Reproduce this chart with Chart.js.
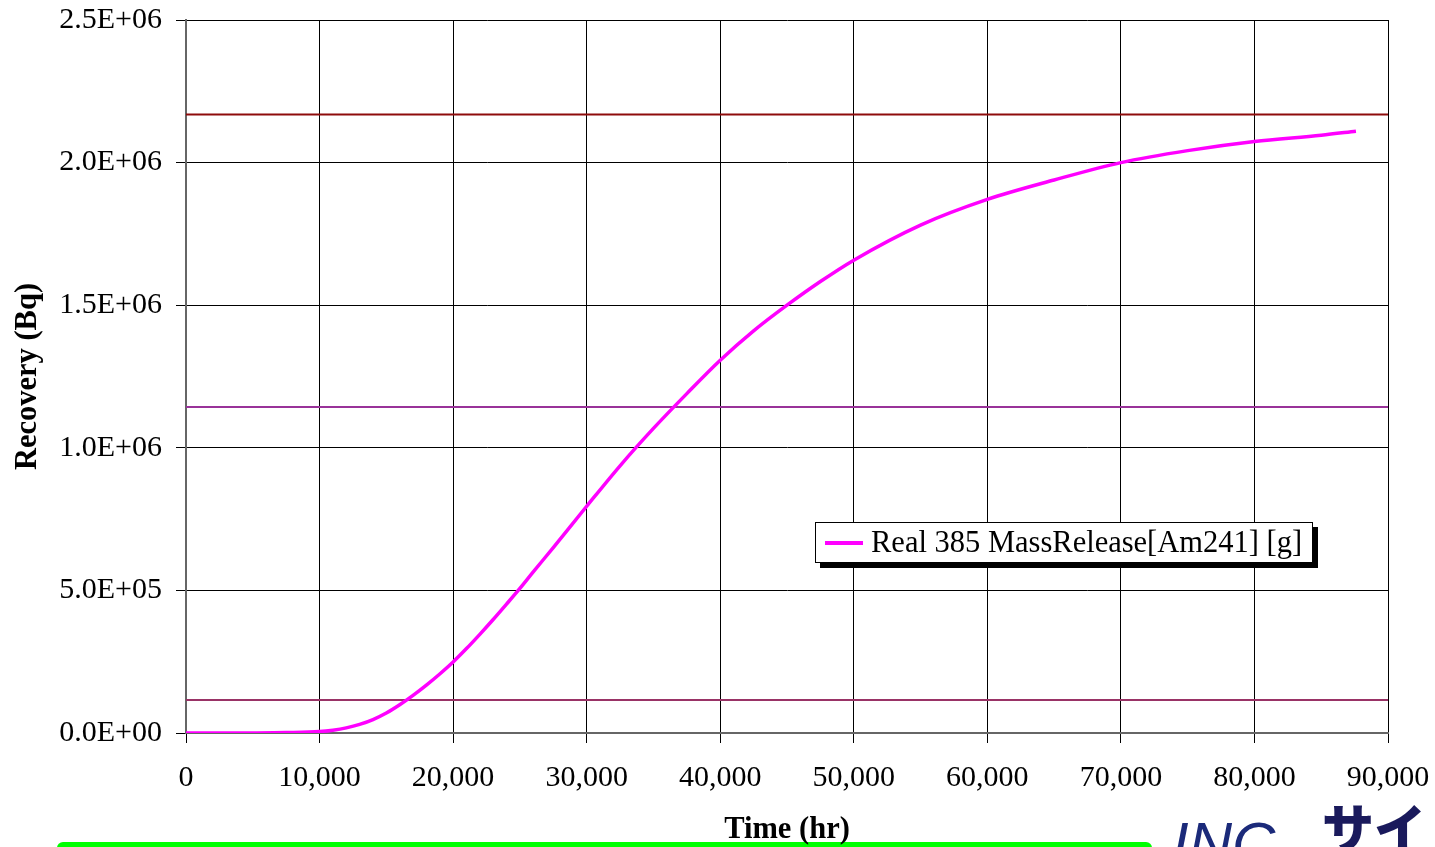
<!DOCTYPE html>
<html lang="en">
<head>
  <meta charset="UTF-8" />
  <title>Recovery vs Time</title>
  <script src="https://cdn.jsdelivr.net/npm/chart.js"></script>
  <style>
    body {
      margin: 0;
      background-color: #ffffff;
      overflow: hidden;
      font-family: 'Liberation Serif', 'Times New Roman', serif;
    }
    .page {
      position: relative;
      width: 1435px;
      height: 847px;
      overflow: hidden;
    }
    .chart-box {
      position: absolute;
      left: 0;
      top: 0;
      width: 1435px;
      height: 847px;
      z-index: 2;
    }
    .green-bar {
      position: absolute;
      left: 57px;
      top: 842px;
      width: 1095px;
      height: 12px;
      background-color: #00ff00;
      border-radius: 6px 6px 0 0;
      z-index: 1;
    }
    .logo-ino {
      position: absolute;
      left: 1172px;
      top: 814px;
      font-family: 'Liberation Sans', sans-serif;
      font-style: italic;
      font-size: 60px;
      color: #1b2a7a;
      line-height: 1;
      z-index: 1;
    }
    .logo-jp {
      position: absolute;
      left: 1322px;
      top: 800px;
      font-family: 'Noto Sans CJK JP', sans-serif;
      font-weight: 900;
      font-size: 52px;
      color: #1a1a5c;
      line-height: 1;
      z-index: 1;
    }
    .legend {
      position: absolute;
      left: 815px;
      top: 522px;
      width: 496px;
      height: 39px;
      border: 1px solid #000;
      background: #ffffff;
      box-shadow: 5px 5px 0 #000;
      z-index: 3;
    }
    .legend .swatch {
      position: absolute;
      left: 9px;
      top: 18px;
      width: 38px;
      height: 4px;
      background: #ff00ff;
    }
    .legend .label {
      position: absolute;
      left: 55px;
      top: 2px;
      font-size: 30.5px;
      line-height: 34px;
      color: #000;
      white-space: nowrap;
    }
  </style>
</head>
<body>
<div class="page">
  <div class="green-bar"></div>
  <div class="logo-ino">INC</div>
  <div class="logo-jp">サイ</div>
  <div class="chart-box"><canvas id="recoveryChart"></canvas></div>
  <div class="legend">
    <div class="swatch"></div>
    <div class="label">Real 385 MassRelease[Am241] [g]</div>
  </div>
</div>

<script>
  // data
  const timeHours = [0, 2500, 5000, 7500, 10000, 11000, 12000, 13000, 14000, 15000, 16000, 17000, 18000,
    19000, 20000, 21000, 22000, 23000, 24000, 25000, 26000, 27500, 30000, 32500, 35000, 37500, 40000,
    42500, 45000, 47500, 50000, 55000, 60000, 65000, 70000, 75000, 80000, 85000, 87600];
  const recovery = [0, 0, 300, 1500, 5000, 10000, 18000, 30000, 47000, 70000, 99000, 132000, 168000,
    207000, 249000, 296000, 346000, 398000, 452000, 507000, 565000, 650000, 795000, 937000, 1068000,
    1190000, 1307000, 1410000, 1500000, 1583000, 1658000, 1781000, 1871000, 1939000, 2000000,
    2042000, 2074000, 2096000, 2110000];
  const seriesName = 'Real 385 MassRelease[Am241] [g]';

  // horizontal reference lines
  const refLevels = [2169000, 1143000, 116000];
  const refColors = ['#8e0b0b', '#993399', '#993366'];

  const xTickLabels = ['0', '10,000', '20,000', '30,000', '40,000', '50,000', '60,000', '70,000', '80,000', '90,000'];
  const yTickLabels = ['0.0E+00', '5.0E+05', '1.0E+06', '1.5E+06', '2.0E+06', '2.5E+06'];

  Chart.defaults.font.family = "'Liberation Serif', 'Times New Roman', serif";
  Chart.defaults.color = '#000';

  const datasets = [{
    label: seriesName,
    data: timeHours.map((t, i) => ({ x: t, y: recovery[i] })),
    borderColor: '#ff00ff',
    borderWidth: 3.5,
    pointRadius: 0,
    showLine: true,
    cubicInterpolationMode: 'monotone'
  }];

  refLevels.forEach((lvl, i) => {
    datasets.push({
      label: 'ref' + i,
      data: [{ x: 0, y: lvl }, { x: 90000, y: lvl }],
      borderColor: refColors[i],
      borderWidth: 2,
      pointRadius: 0,
      showLine: true
    });
  });

  new Chart(document.getElementById('recoveryChart'), {
    type: 'scatter',
    data: { datasets: datasets },
    options: {
      responsive: true,
      maintainAspectRatio: false,
      animation: false,
      layout: { padding: { top: 20, right: 47, left: 0, bottom: 0 } },
      plugins: {
        legend: { display: false },
        tooltip: { enabled: false }
      },
      scales: {
        x: {
          type: 'linear',
          min: 0,
          max: 90000,
          afterFit: (scale) => {
            scale.height = 114;
            scale.paddingLeft = 0;
            scale.paddingRight = 0;
          },
          ticks: {
            stepSize: 10000,
            maxRotation: 0,
            padding: 17,
            font: { size: 30 },
            callback: (value, index) => xTickLabels[index]
          },
          grid: { color: '#000', lineWidth: 1, tickLength: 10 },
          border: { color: '#666', width: 2 },
          title: {
            display: true,
            text: 'Time (hr)',
            font: { size: 30.5, weight: 'bold', lineHeight: 1.1 },
            padding: { top: 0, bottom: 0 }
          }
        },
        y: {
          min: 0,
          max: 2500000,
          afterFit: (scale) => {
            scale.width = 186;
            scale.paddingTop = 0;
            scale.paddingBottom = 0;
          },
          ticks: {
            stepSize: 500000,
            padding: 14,
            font: { size: 30 },
            callback: (value, index) => yTickLabels[index]
          },
          grid: { color: '#000', lineWidth: 1, tickLength: 10 },
          border: { color: '#666', width: 2 },
          title: {
            display: true,
            text: 'Recovery (Bq)',
            font: { size: 30.5, weight: 'bold', lineHeight: 1.1 },
            padding: { top: 11, bottom: 0 }
          }
        }
      }
    }
  });
</script>
</body>
</html>
